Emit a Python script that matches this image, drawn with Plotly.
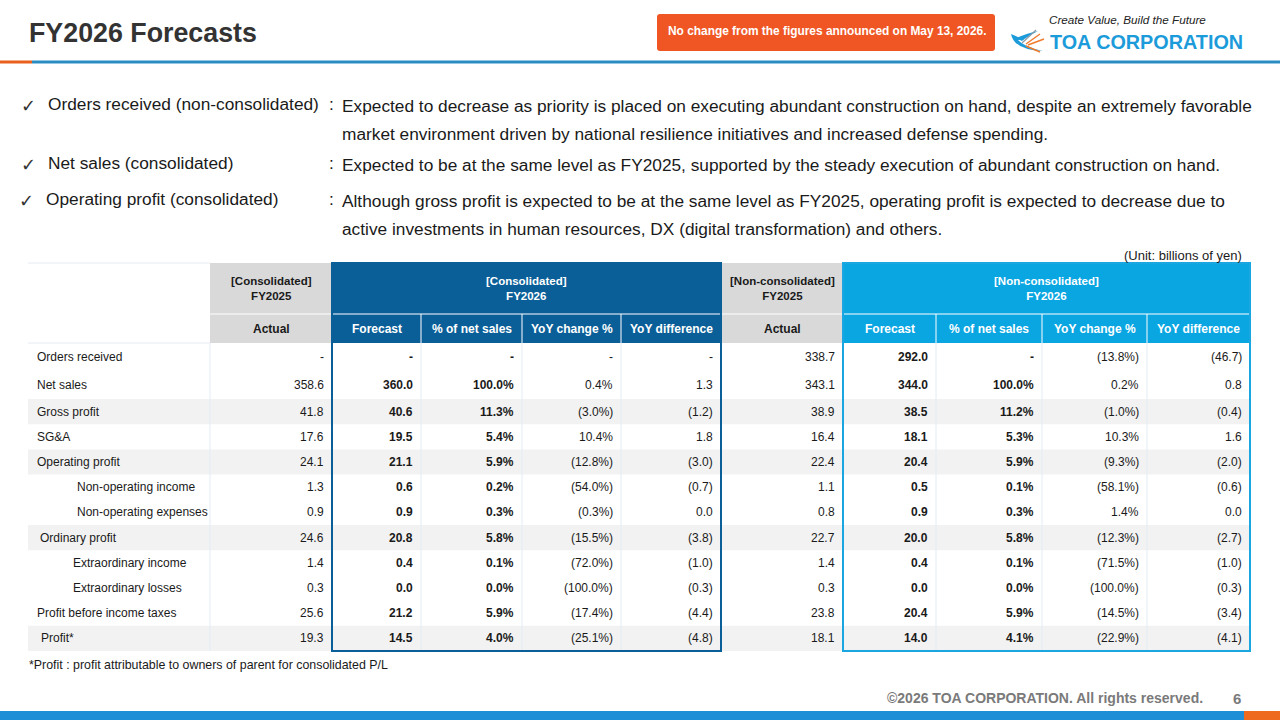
import plotly.graph_objects as go

# ---------------- data ----------------
ROW_LABELS = ["Orders received", "Net sales", "Gross profit", "SG&A", "Operating profit",
              "Non-operating income", "Non-operating expenses", "Ordinary profit",
              "Extraordinary income", "Extraordinary losses", "Profit before income taxes", "Profit*"]

CONS_FY2025_ACTUAL = [None, 358.6, 41.8, 17.6, 24.1, 1.3, 0.9, 24.6, 1.4, 0.3, 25.6, 19.3]
CONS_FY2026_FORECAST = [None, 360.0, 40.6, 19.5, 21.1, 0.6, 0.9, 20.8, 0.4, 0.0, 21.2, 14.5]
CONS_PCT_NET_SALES = [None, 100.0, 11.3, 5.4, 5.9, 0.2, 0.3, 5.8, 0.1, 0.0, 5.9, 4.0]
CONS_YOY_PCT = [None, 0.4, -3.0, 10.4, -12.8, -54.0, -0.3, -15.5, -72.0, -100.0, -17.4, -25.1]
CONS_YOY_DIFF = [None, 1.3, -1.2, 1.8, -3.0, -0.7, 0.0, -3.8, -1.0, -0.3, -4.4, -4.8]

NC_FY2025_ACTUAL = [338.7, 343.1, 38.9, 16.4, 22.4, 1.1, 0.8, 22.7, 1.4, 0.3, 23.8, 18.1]
NC_FY2026_FORECAST = [292.0, 344.0, 38.5, 18.1, 20.4, 0.5, 0.9, 20.0, 0.4, 0.0, 20.4, 14.0]
NC_PCT_NET_SALES = [None, 100.0, 11.2, 5.3, 5.9, 0.1, 0.3, 5.8, 0.1, 0.0, 5.9, 4.1]
NC_YOY_PCT = [-13.8, 0.2, -1.0, 10.3, -9.3, -58.1, 1.4, -12.3, -71.5, -100.0, -14.5, -22.9]
NC_YOY_DIFF = [-46.7, 0.8, -0.4, 1.6, -2.0, -0.6, 0.0, -2.7, -1.0, -0.3, -3.4, -4.1]

SUB_HEADERS = ["Actual", "Forecast", "% of net sales", "YoY change %", "YoY difference",
               "Actual", "Forecast", "% of net sales", "YoY change %", "YoY difference"]
GROUP_HEADERS = ["[Consolidated]<br>FY2025", "[Consolidated]<br>FY2026",
                 "[Non-consolidated]<br>FY2025", "[Non-consolidated]<br>FY2026"]

BULLET_LABELS = ["Orders received (non-consolidated)", "Net sales (consolidated)",
                 "Operating profit (consolidated)"]
BULLET_TEXTS = [
    ["Expected to decrease as priority is placed on executing abundant construction on hand, despite an extremely favorable",
     "market environment driven by national resilience initiatives and increased defense spending."],
    ["Expected to be at the same level as FY2025, supported by the steady execution of abundant construction on hand."],
    ["Although gross profit is expected to be at the same level as FY2025, operating profit is expected to decrease due to",
     "active investments in human resources, DX (digital transformation) and others."],
]

TITLE = "FY2026 Forecasts"
BADGE = "No change from the figures announced on May 13, 2026."
UNIT = "(Unit: billions of yen)"
FOOTNOTE = "*Profit : profit attributable to owners of parent for consolidated P/L"
COPYRIGHT = "©2026 TOA CORPORATION. All rights reserved."
PAGE = "6"

COLUMNS = [CONS_FY2025_ACTUAL, CONS_FY2026_FORECAST, CONS_PCT_NET_SALES, CONS_YOY_PCT, CONS_YOY_DIFF,
           NC_FY2025_ACTUAL, NC_FY2026_FORECAST, NC_PCT_NET_SALES, NC_YOY_PCT, NC_YOY_DIFF]
COL_IS_PCT = [False, False, True, True, False, False, False, True, True, False]

# ---------------- style / layout ----------------
FONT = "Liberation Sans, Arial, sans-serif"
COL_EDGES = [28, 210, 332, 421, 522, 621, 721, 843, 936, 1042, 1147, 1250]
BOLD_COLS = {1, 2, 6, 7}
SHADED_ROWS = {2, 4, 7, 11}
LABEL_INDENT = [7, 7, 7, 7, 7, 47, 47, 10, 43, 43, 7, 11]
ROW_H = [28, 28] + [25.2] * 10
H1_TOP, H1_BOT, H2_BOT = 263, 314, 343
GRAY, DARK, CYAN = "#D9D9D9", "#0B5F98", "#0AA6E2"
TXT = "#1a1a1a"


def fmt(v, pct):
    if v is None:
        return "-"
    s = f"{abs(v):.1f}" + ("%" if pct else "")
    return f"({s})" if v < 0 else s


shapes = []
ann = []


def rect(x0, y0, x1, y1, fill, line_color=None, lw=0, layer="below"):
    shapes.append(dict(type="rect", xref="x", yref="y", x0=x0, y0=y0, x1=x1, y1=y1,
                       fillcolor=fill, line=dict(color=line_color or fill, width=lw), layer=layer))


def line(x0, y0, x1, y1, color, w=1, layer="above"):
    shapes.append(dict(type="line", xref="x", yref="y", x0=x0, y0=y0, x1=x1, y1=y1,
                       line=dict(color=color, width=w), layer=layer))


def text(x, y, s, size=12, color=TXT, xanchor="left", bold=False, italic=False, family=FONT):
    if bold:
        s = f"<b>{s}</b>"
    if italic:
        s = f"<i>{s}</i>"
    ann.append(dict(x=x, y=y, xref="x", yref="y", text=s, showarrow=False, xanchor=xanchor,
                    yanchor="middle", font=dict(size=size, color=color, family=family)))


# ---------- slide header ----------
text(27, 33, TITLE, size=26.8, color="#333333", bold=True)
shapes.append(dict(type="path", xref="x", yref="y",
                   path="M 660 14 L 992 14 Q 995 14 995 17 L 995 48 Q 995 51 992 51 L 660 51 Q 657 51 657 48 L 657 17 Q 657 14 660 14 Z",
                   fillcolor="#EF5623", line=dict(width=0), layer="below"))
text(827, 31, BADGE, size=11.9, color="white", xanchor="center", bold=True)
text(1047, 19, "Create Value, Build the Future", size=11.7, color="#222222", italic=True)
text(1048, 42, "TOA CORPORATION", size=19.8, color="#1C9BDA", bold=True)
# logo bird
shapes.append(dict(type="path", xref="x", yref="y",
                   path="M 1011 34 Q 1014 50 1043 51 Q 1024 47 1018 40 L 1024 40 Q 1018 37 1011 34 Z",
                   fillcolor="#1C9BDA", line=dict(width=0)))
shapes.append(dict(type="path", xref="x", yref="y",
                   path="M 1016 38 Q 1028 33 1038 31 Q 1028 36 1022 41 Z",
                   fillcolor="#1C9BDA", line=dict(width=0)))
for (xa, ya, xb, yb) in [(1026, 44, 1040, 34), (1028, 45, 1044, 39), (1026, 46, 1040, 52)]:
    line(xa, ya, xb, yb, "#F07B2E", 1.5)
line(1022, 43, 1036, 30, "#8E9AA6", 1.2)

# header rule
line(0, 62, 32, 62, "#E8601C", 3)
line(32, 62, 1280, 62, "#2B8CC4", 3)

# ---------- bullets ----------
BULLET_Y = [105, 164, 200]
CHECK_X = [19, 19, 17]
LABEL_X = [46, 46, 44]
for i, lab in enumerate(BULLET_LABELS):
    y = BULLET_Y[i]
    text(CHECK_X[i], y, "✓", size=18, color="#333333", family="DejaVu Sans")
    text(LABEL_X[i], y - 1, lab, size=17.3, color=TXT)
    text(327, y - 1, ":", size=17.3, color=TXT)
    for j, t in enumerate(BULLET_TEXTS[i]):
        text(340, y + 1 + 28 * j, t, size=17.3, color=TXT)

text(1244, 255, UNIT, size=13, color=TXT, xanchor="right")

# ---------- table ----------
row_tops = [H2_BOT]
for h in ROW_H:
    row_tops.append(row_tops[-1] + h)
TABLE_BOT = row_tops[-1]

# row shading
for r in range(len(ROW_LABELS)):
    if r in SHADED_ROWS:
        rect(COL_EDGES[0], row_tops[r], COL_EDGES[-1], row_tops[r + 1], "#F2F2F2")

# faint grid
line(COL_EDGES[0], H1_TOP, COL_EDGES[1], H1_TOP, "#E6EBF0", 1, layer="below")
line(COL_EDGES[0], H2_BOT, COL_EDGES[1], H2_BOT, "#E6EBF0", 1, layer="below")
for x in COL_EDGES[1:-1]:
    line(x, H2_BOT, x, TABLE_BOT, "#E3ECF4", 1, layer="below")

# header fills
groups = [(1, 2, GRAY), (2, 6, DARK), (6, 7, GRAY), (7, 11, CYAN)]
for gi, (a, b, col) in enumerate(groups):
    rect(COL_EDGES[a], H1_TOP, COL_EDGES[b], H1_BOT, col)
    tc = "#1a1a1a" if col == GRAY else "white"
    text((COL_EDGES[a] + COL_EDGES[b]) / 2, (H1_TOP + H1_BOT) / 2, GROUP_HEADERS[gi],
         size=11.5, color=tc, xanchor="center", bold=True)
    for c in range(a, b):
        rect(COL_EDGES[c], H1_BOT, COL_EDGES[c + 1], H2_BOT, col)
        text((COL_EDGES[c] + COL_EDGES[c + 1]) / 2, (H1_BOT + H2_BOT) / 2, SUB_HEADERS[c - 1],
             size=12, color=tc, xanchor="center", bold=True)
# white separators in header
line(COL_EDGES[1], H1_BOT, COL_EDGES[-1], H1_BOT, "white", 1)
for x in COL_EDGES[2:-1]:
    line(x, H1_BOT, x, H2_BOT, "white", 1)

# group outlines
rect(COL_EDGES[2], H1_TOP, COL_EDGES[6], TABLE_BOT, "rgba(0,0,0,0)", DARK, 2, layer="above")
rect(COL_EDGES[7], H1_TOP, COL_EDGES[11], TABLE_BOT, "rgba(0,0,0,0)", "#1AA6E0", 2, layer="above")

# cells
for r, lab in enumerate(ROW_LABELS):
    yc = (row_tops[r] + row_tops[r + 1]) / 2
    text(COL_EDGES[0] + LABEL_INDENT[r], yc, lab, size=12, color=TXT)
    for c, col in enumerate(COLUMNS):
        xr = COL_EDGES[c + 2] - 6
        text(xr, yc, fmt(col[r], COL_IS_PCT[c]), size=12, color=TXT, xanchor="right", bold=(c in BOLD_COLS))

text(27, 665, FOOTNOTE, size=12.4, color=TXT)

# ---------- footer ----------
text(1205, 698, COPYRIGHT, size=14, color="#7a7a7a", xanchor="right", bold=True)
text(1237, 698, PAGE, size=15, color="#7a7a7a", xanchor="center", bold=True)
rect(0, 711, 1244, 720, "#1E8FD6")
rect(1244, 711, 1280, 720, "#EE6A1E")

fig = go.Figure()
fig.update_layout(
    width=1280, height=720, margin=dict(l=0, r=0, t=0, b=0),
    paper_bgcolor="white", plot_bgcolor="white",
    xaxis=dict(range=[0, 1280], visible=False, fixedrange=True),
    yaxis=dict(range=[720, 0], visible=False, fixedrange=True),
    shapes=shapes, annotations=ann, showlegend=False,
)
fig.write_html("out.html", config={"displayModeBar": False},
               post_script="document.body.style.margin='0';document.body.style.overflow='hidden';")
